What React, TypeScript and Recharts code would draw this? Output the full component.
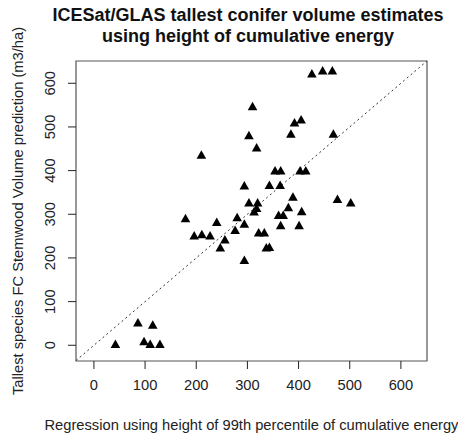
import { ScatterChart, Scatter, XAxis, YAxis, ReferenceLine, ReferenceArea, Label } from 'recharts';

const regressionVolume = [
  42, 86, 98, 110, 115, 129, 179, 196, 211, 210, 227, 240, 247, 256, 276, 280, 294, 294, 294,
  303, 303, 310, 313, 318, 318, 320, 322, 333, 337, 343, 343, 354, 361, 364, 365, 365, 370,
  380, 385, 389, 392, 401, 403, 405, 406, 414, 426, 447, 466, 468, 476, 502,
];

const predictedVolume = [
  2, 51, 8, 2, 46, 2, 290, 250, 253, 435, 250, 281, 223, 241, 263, 292, 365, 277, 194,
  480, 326, 546, 305, 313, 452, 326, 257, 257, 223, 224, 366, 399, 297, 366, 399, 274, 297,
  315, 483, 339, 509, 274, 399, 516, 306, 399, 621, 628, 628, 483, 334, 326,
];

const xTicks = [0, 100, 200, 300, 400, 500, 600];
const yTicks = [0, 100, 200, 300, 400, 500, 600];

const points = regressionVolume.map((x, i) => ({ x, y: predictedVolume[i] }));

const FONT = '"Liberation Sans", Arial, sans-serif';

const Triangle = (props: any) => {
  const { cx, cy } = props;
  return (
    <polygon
      points={`${cx},${cy - 5} ${cx - 4.8},${cy + 3.5} ${cx + 4.8},${cy + 3.5}`}
      fill="#000"
    />
  );
};

const YTick = (props: any) => {
  const { x, y, payload } = props;
  const tx = x - 11;
  return (
    <text
      x={tx}
      y={y}
      transform={`rotate(-90, ${tx}, ${y})`}
      textAnchor="middle"
      fontSize={14.7}
      fontFamily={FONT}
      fill="#222"
    >
      {payload.value}
    </text>
  );
};

export default function App() {
  return (
    <div style={{ position: 'absolute', left: 0, top: 0, width: 458, height: 433, background: '#fff' }}>
      <div
        style={{
          position: 'absolute',
          left: 38,
          top: 5,
          width: 420,
          textAlign: 'center',
          fontFamily: FONT,
          fontWeight: 'bold',
          fontSize: 18,
          lineHeight: '21px',
          color: '#111',
        }}
      >
        ICESat/GLAS tallest conifer volume estimates
        <br />
        using height of cumulative energy
      </div>
      <ScatterChart width={458} height={433} margin={{ top: 61, right: 31, bottom: 32, left: 16 }}>
        <XAxis
          type="number"
          dataKey="x"
          domain={[-35, 651]}
          ticks={xTicks}
          axisLine={false}
          tickSize={8}
          tickLine={{ stroke: '#222' }}
          tick={{ fontSize: 14.7, fontFamily: FONT, fill: '#222', dy: 9 }}
          height={40}
          allowDataOverflow
        >
          <Label
            value="Regression using height of 99th percentile of cumulative energy"
            position="insideBottom"
            offset={-29}
            style={{ fontSize: 14.7, fontFamily: FONT, fill: '#222' }}
          />
        </XAxis>
        <YAxis
          type="number"
          dataKey="y"
          domain={[-36, 651]}
          ticks={yTicks}
          axisLine={false}
          tickSize={8}
          tickLine={{ stroke: '#222' }}
          tick={<YTick />}
          width={60}
          allowDataOverflow
        >
          <Label
            value="Tallest species FC Stemwood Volume prediction (m3/ha)"
            angle={-90}
            position="insideLeft"
            offset={0}
            dx={2}
            style={{ fontSize: 14.7, fontFamily: FONT, fill: '#222', textAnchor: 'middle' }}
          />
        </YAxis>
        <ReferenceArea
          x1={-35}
          x2={651}
          y1={-36}
          y2={651}
          fill="none"
          stroke="#555"
          strokeWidth={1.2}
          ifOverflow="extendDomain"
        />
        <ReferenceLine
          segment={[{ x: -35, y: -35 }, { x: 651, y: 651 }]}
          stroke="#333"
          strokeDasharray="2 3"
          strokeWidth={1}
        />
        <Scatter data={points} shape={<Triangle />} isAnimationActive={false} />
      </ScatterChart>
    </div>
  );
}
